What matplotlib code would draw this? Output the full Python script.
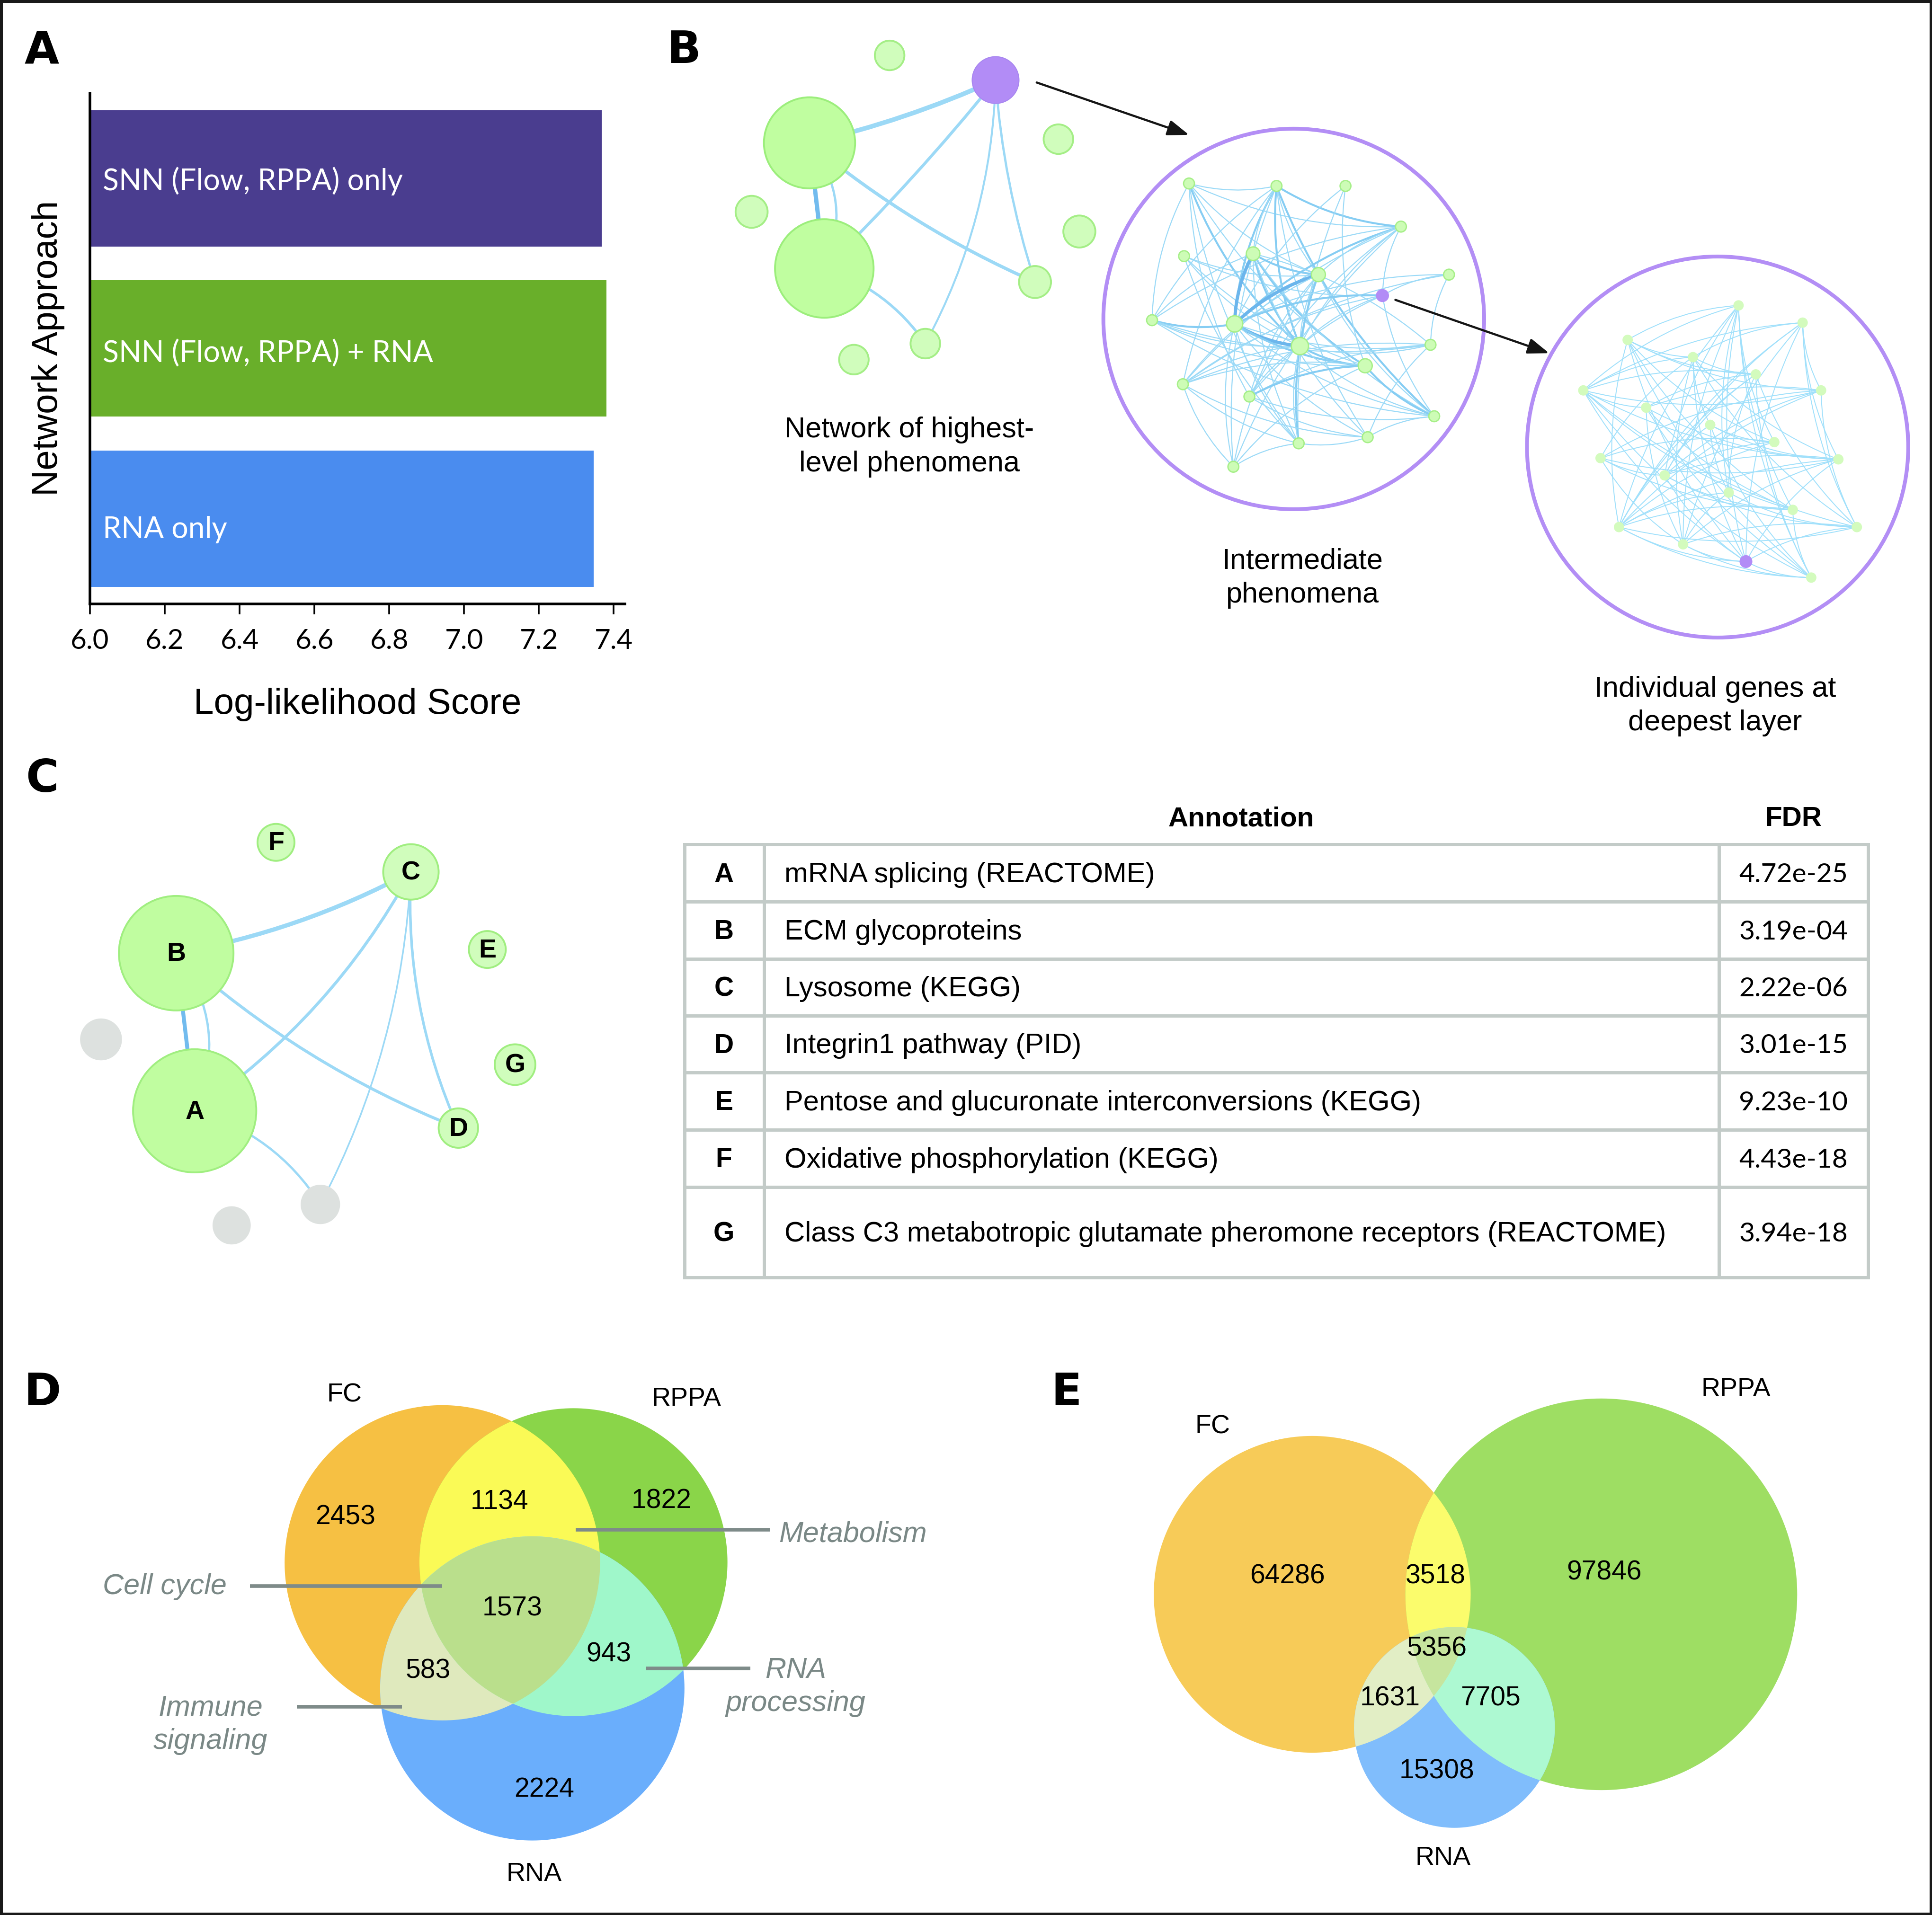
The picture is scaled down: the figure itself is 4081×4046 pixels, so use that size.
import numpy as np
import matplotlib
matplotlib.use('Agg')
import matplotlib.pyplot as plt
from matplotlib.patches import Circle, Polygon, PathPatch, Rectangle, FancyArrowPatch
from matplotlib.path import Path

plt.rcParams['font.family'] = ['Liberation Sans', 'DejaVu Sans']
GEO = ['Lato', 'DejaVu Sans']

# ---------------- data ----------------
# panel A
approaches = ['SNN (Flow, RPPA) only', 'SNN (Flow, RPPA) + RNA', 'RNA only']
scores = [7.368, 7.381, 7.346]
bar_colors = ['#4a3d8f', '#69af2a', '#4a8cef']
label_dy = [-0.015, -0.03, -0.065]

# panel B, top level network (x, y, r, kind)
top_nodes = [(808, 65, 19, 'p'), (657, 116, 37, 'g'), (669, 218, 40, 'g'),
             (722, 45, 12, 'l'), (610, 172, 13, 'l'), (859, 113, 12, 'l'),
             (876, 188, 13, 'l'), (840, 229, 13, 'l'), (751, 279, 12, 'l'),
             (693, 292, 12, 'l')]
# (i, j, width, curvature, dark)
top_edges = [(0, 1, 7.0, -0.05, 0), (0, 2, 4.5, -0.03, 0), (0, 7, 3.5, 0.06, 0),
             (0, 8, 3.0, -0.12, 0), (1, 2, 6.5, 0.0, 1), (1, 2, 3.5, -0.3, 0),
             (1, 7, 5.0, 0.07, 0), (2, 8, 4.0, -0.17, 0)]

# panel B, intermediate network
mid_nodes = [(965, 149, 4.4), (1036, 151, 4.4), (1092, 151, 4.4), (1137, 184, 4.4),
             (961, 208, 4.4), (1017, 206, 5.5), (1070, 223, 5.7), (1176, 223, 4.4),
             (1122, 240, 5.3), (935, 260, 4.4), (1002, 263, 6.6), (1055, 281, 7.0),
             (1161, 280, 4.4), (1108, 297, 5.7), (960, 312, 4.4), (1014, 322, 4.4),
             (1164, 338, 4.4), (1054, 360, 4.4), (1110, 355, 4.4), (1001, 379, 4.4)]
mid_purple = 8
mid_edges = [(0, 1, 1), (0, 3, 1), (0, 9, 1), (0, 11, 2), (0, 13, 1), (0, 15, 1), (0, 6, 1), (0, 17, 1),
             (1, 3, 2), (1, 10, 2), (1, 5, 1), (1, 11, 2), (1, 18, 1), (1, 14, 1), (1, 16, 2), (1, 6, 1),
             (1, 9, 1), (1, 19, 1),
             (2, 13, 1), (2, 10, 1), (2, 17, 1),
             (3, 10, 2), (3, 14, 1), (3, 11, 1), (3, 8, 1), (3, 19, 1), (3, 6, 1), (3, 15, 1), (3, 9, 1),
             (4, 6, 1), (4, 11, 1), (4, 13, 1), (4, 17, 1), (4, 8, 1),
             (5, 6, 2), (5, 10, 3), (5, 11, 2), (5, 13, 2), (5, 16, 1), (5, 17, 1), (5, 9, 1), (5, 18, 1),
             (6, 10, 3), (6, 11, 1), (6, 14, 1), (6, 15, 1), (6, 16, 1), (6, 19, 1), (6, 17, 2),
             (7, 8, 1), (7, 10, 1), (7, 14, 1), (7, 12, 1),
             (8, 10, 2), (8, 11, 1), (8, 16, 1), (8, 15, 1), (8, 14, 1),
             (9, 10, 2), (9, 11, 1), (9, 12, 1), (9, 13, 1), (9, 16, 1),
             (10, 11, 3), (10, 12, 1), (10, 13, 2), (10, 16, 1), (10, 17, 1), (10, 18, 1), (10, 19, 1),
             (11, 12, 1), (11, 13, 2), (11, 14, 1), (11, 15, 1), (11, 17, 1), (11, 16, 1),
             (12, 14, 1), (12, 15, 1), (12, 5, 1),
             (13, 14, 1), (13, 15, 2), (13, 19, 1), (13, 16, 2),
             (14, 17, 1), (14, 18, 1), (14, 19, 1),
             (15, 16, 1), (15, 18, 1), (16, 18, 1), (17, 18, 1), (17, 19, 1), (12, 18, 1)]

# panel B, deepest layer network
deep_nodes = [(1411, 248), (1463, 262), (1321, 276), (1374, 290), (1425, 304), (1285, 317),
              (1478, 317), (1336, 331), (1388, 345), (1440, 359), (1299, 372), (1492, 373),
              (1351, 386), (1403, 400), (1455, 414), (1314, 428), (1507, 428), (1366, 442),
              (1417, 456), (1470, 469)]
deep_purple = 18
deep_edges = [(0, 2), (0, 5), (0, 12), (0, 15), (0, 17), (0, 18), (0, 14), (0, 9), (0, 13), (0, 19),
              (1, 3), (1, 5), (1, 15), (1, 12), (1, 6), (1, 16), (1, 18), (1, 17), (1, 11),
              (2, 3), (2, 4), (2, 6), (2, 15), (2, 14), (2, 18), (2, 19), (2, 9),
              (3, 4), (3, 5), (3, 10), (3, 16), (3, 18), (3, 17), (3, 8), (3, 11),
              (4, 5), (4, 7), (4, 12), (4, 15), (4, 16), (4, 19), (4, 13),
              (5, 6), (5, 11), (5, 14), (5, 16), (5, 18), (5, 19), (5, 7),
              (6, 7), (6, 10), (6, 15), (6, 16), (6, 12),
              (7, 11), (7, 14), (7, 17), (7, 19),
              (8, 11), (8, 13), (8, 15), (8, 19), (8, 9),
              (9, 10), (9, 15), (9, 12),
              (10, 11), (10, 12), (10, 17), (10, 14),
              (11, 12), (11, 15), (11, 18), (11, 17),
              (12, 16), (12, 18), (12, 14),
              (13, 15), (13, 17), (13, 16),
              (14, 15), (14, 19), (15, 18), (15, 19), (15, 16),
              (16, 17), (16, 18), (17, 18), (17, 19), (18, 19)]

# panel C network (label, x, y, r)
c_nodes = [('F', 224, 684, 15), ('C', 333.5, 708, 22.5), ('B', 143, 774, 46.5),
           ('E', 395.5, 771, 15), ('', 82, 844, 17), ('G', 418, 864.5, 16.5),
           ('A', 158, 902, 50), ('D', 372, 916, 16), ('', 260, 978, 16), ('', 188, 995, 15.5)]
c_edges = [(2, 1, 6.5, 0.08, 0), (1, 6, 4.5, -0.12, 0), (1, 7, 4.0, 0.12, 0), (1, 8, 2.5, -0.11, 0),
           (2, 6, 6.0, 0.0, 1), (2, 6, 3.5, -0.29, 0), (2, 7, 4.5, 0.09, 0), (6, 8, 3.5, -0.19, 0)]

# annotation table
tab_ids = ['A', 'B', 'C', 'D', 'E', 'F', 'G']
tab_annot = ['mRNA splicing (REACTOME)', 'ECM glycoproteins', 'Lysosome (KEGG)',
             'Integrin1 pathway (PID)', 'Pentose and glucuronate interconversions (KEGG)',
             'Oxidative phosphorylation (KEGG)',
             'Class C3 metabotropic glutamate pheromone receptors (REACTOME)']
tab_fdr = ['4.72e-25', '3.19e-04', '2.22e-06', '3.01e-15', '9.23e-10', '4.43e-18', '3.94e-18']
row_edges = [685.8, 732.1, 778.5, 824.6, 870.9, 917.3, 963.9, 1037.2]

# venn diagrams: FC only, RPPA only, FC&RPPA, RNA only, FC&RNA, RPPA&RNA, all
venn_sets = ['FC', 'RPPA', 'RNA']
venn_d_counts = [2453, 1822, 1134, 2224, 583, 943, 1573]
venn_e_counts = [64286, 97846, 3518, 15308, 1631, 7705, 5356]

# ---------------- helpers ----------------
MAIN_W, MAIN_H = 1568, 1555

fig = plt.figure(figsize=(40.81, 40.46), dpi=100)
ax0 = fig.add_axes([0, 0, 1, 1])
ax0.set_xlim(0, MAIN_W)
ax0.set_ylim(MAIN_H, 0)
ax0.axis('off')


def curve(p, q, rad, **kw):
    p = np.asarray(p, float)
    q = np.asarray(q, float)
    d = q - p
    c = (p + q) / 2 + rad * np.array([-d[1], d[0]])
    path = Path([p, c, q], [Path.MOVETO, Path.CURVE3, Path.CURVE3])
    ax0.add_patch(PathPatch(path, fill=False, capstyle='round', **kw))


def circle_pts(cx, cy, r, n=240):
    t = np.linspace(0, 2 * np.pi, n, endpoint=False)
    return np.column_stack([cx + r * np.cos(t), cy + r * np.sin(t)])


def clip_poly(subject, clip):
    out = list(subject)
    m = len(clip)
    for i in range(m):
        a, b = clip[i - 1], clip[i]
        ab = b - a
        inp, out = out, []
        if not inp:
            break
        s = inp[-1]
        s_in = ab[0] * (s[1] - a[1]) - ab[1] * (s[0] - a[0]) >= 0
        for e in inp:
            e_in = ab[0] * (e[1] - a[1]) - ab[1] * (e[0] - a[0]) >= 0
            if e_in != s_in:
                d1 = e - s
                den = d1[0] * ab[1] - d1[1] * ab[0]
                t = ((a[0] - s[0]) * ab[1] - (a[1] - s[1]) * ab[0]) / den
                out.append(s + t * d1)
            if e_in:
                out.append(e)
            s, s_in = e, e_in
    return np.array(out)


def venn(circles, counts, cols, count_pos, label_pos):
    c = [circle_pts(*cc) for cc in circles]
    for k in range(3):
        ax0.add_patch(Polygon(c[k], closed=True, fc=cols[k], ec='none', zorder=2))
    for (i, j), col in zip([(0, 1), (0, 2), (1, 2)], cols[3:6]):
        ax0.add_patch(Polygon(clip_poly(c[i], c[j]), closed=True, fc=col, ec='none', zorder=3))
    tri = clip_poly(clip_poly(c[0], c[1]), c[2])
    ax0.add_patch(Polygon(tri, closed=True, fc=cols[6], ec='none', zorder=4))
    for n, (x, y) in zip(counts, count_pos):
        ax0.text(x, y, str(n), fontsize=41, ha='center', va='center', zorder=6)
    for s, (x, y) in zip(venn_sets, label_pos):
        ax0.text(x, y, s, fontsize=40, ha='center', va='center', zorder=6)


# ---------------- panel A ----------------
ax = fig.add_axes([190 / 4081, 1 - 1275.5 / 4046, 1130 / 4081, 1078.5 / 4046])
ypos = [2, 1, 0]
ax.barh(ypos, [s - 6 for s in scores], left=6, height=0.8, color=bar_colors)
for y, dy, lab in zip(ypos, label_dy, approaches):
    ax.text(0.024, y + dy, lab, transform=ax.get_yaxis_transform(), color='white',
            fontsize=45, va='center', ha='left', family=GEO)
ax.set_xlim(6, 7.43)
ax.set_ylim(-0.5, 2.5)
ax.set_xticks(np.arange(6.0, 7.41, 0.2))
ax.set_xticklabels(['%.1f' % v for v in np.arange(6.0, 7.41, 0.2)], family=GEO, fontsize=42)
ax.set_yticks([])
ax.tick_params(axis='x', direction='out', length=16, width=2.6, pad=22)
for sp in ['top', 'right']:
    ax.spines[sp].set_visible(False)
for sp in ['left', 'bottom']:
    ax.spines[sp].set_linewidth(4)
ax.set_xlabel('Log-likelihood Score', fontsize=55, labelpad=52)
ax.set_ylabel('Network Approach', fontsize=55, labelpad=38)

# ---------------- panel letters ----------------
for letter, x, y in [('A', 34, 42), ('B', 555, 41), ('C', 34, 633), ('D', 34.5, 1131), ('E', 865.5, 1131)]:
    ax0.text(x, y, letter, fontsize=68, fontweight='bold', family='DejaVu Sans',
             ha='center', va='center')

# ---------------- panel B ----------------
LIGHT_EDGE = '#9cd9f6'
DARK_EDGE = '#72bbee'
for i, j, w, rad, dark in top_edges:
    curve(top_nodes[i][:2], top_nodes[j][:2], rad, lw=w, ec=DARK_EDGE if dark else LIGHT_EDGE, zorder=2)
for x, y, r, kind in top_nodes:
    if kind == 'p':
        ax0.add_patch(Circle((x, y), r, fc='#b28cf6', ec='#a886f0', lw=1.5, zorder=3))
    elif kind == 'g':
        ax0.add_patch(Circle((x, y), r, fc='#c0fea0', ec='#9cee7c', lw=2.8, zorder=3))
    else:
        ax0.add_patch(Circle((x, y), r, fc='#d0fdbc', ec='#a4ee86', lw=2.8, zorder=3))

mid_lw = {1: 1.6, 2: 3.0, 3: 5.0}
mid_col = {1: '#9cdaf7', 2: '#86cdf3', 3: '#6cb6ec'}
for i, j, w in mid_edges:
    curve(mid_nodes[i][:2], mid_nodes[j][:2], 0.12, lw=mid_lw[w], ec=mid_col[w], zorder=2)
for k, (x, y, r) in enumerate(mid_nodes):
    if k == mid_purple:
        ax0.add_patch(Circle((x, y), r, fc='#b28cf6', ec='none', zorder=3))
    else:
        ax0.add_patch(Circle((x, y), r, fc='#cdfcb6', ec='#a6ef88', lw=2, zorder=3))
ax0.add_patch(Circle((1050, 259), 154.5, fill=False, ec='#b38ef5', lw=5.8, zorder=4))

for i, j in deep_edges:
    curve(deep_nodes[i], deep_nodes[j], 0.12, lw=1.4, ec='#a0e0fb', zorder=2)
for k, (x, y) in enumerate(deep_nodes):
    if k == deep_purple:
        ax0.add_patch(Circle((x, y), 5.2, fc='#b28cf6', ec='none', zorder=3))
    else:
        ax0.add_patch(Circle((x, y), 4.2, fc='#d3fbbd', ec='none', zorder=3))
ax0.add_patch(Circle((1394, 363), 154.7, fill=False, ec='#b38ef5', lw=5.8, zorder=4))

for p, q in [((841.4, 67), (965, 109.5)), ((1132.5, 243.5), (1257.3, 286.8))]:
    ax0.add_patch(FancyArrowPatch(p, q, arrowstyle='-|>,head_length=0.55,head_width=0.2',
                                  mutation_scale=50, lw=3.3, color='#151515',
                                  shrinkA=0, shrinkB=0, zorder=5))

for s, x, y in [('Network of highest-\nlevel phenomena', 738, 363),
                ('Intermediate\nphenomena', 1057, 469.5),
                ('Individual genes at\ndeepest layer', 1392, 573.5)]:
    ax0.text(x, y, s, fontsize=44, ha='center', va='center', linespacing=1.32)

# ---------------- panel C ----------------
for i, j, w, rad, dark in c_edges:
    curve(c_nodes[i][1:3], c_nodes[j][1:3], rad, lw=w, ec=DARK_EDGE if dark else LIGHT_EDGE, zorder=2)
for lab, x, y, r in c_nodes:
    if lab == '':
        ax0.add_patch(Circle((x, y), r, fc='#dde1df', ec='none', zorder=3))
        continue
    fc = '#c0fda0' if r > 40 else '#d0fdbc'
    ax0.add_patch(Circle((x, y), r, fc=fc, ec='#a0ee80', lw=2.8, zorder=3))
    ax0.text(x, y + 1, lab, fontsize=40, fontweight='bold', ha='center', va='center', zorder=4)

# ---------------- table ----------------
TAB_L, TAB_C1, TAB_C2, TAB_R = 555.4, 620, 1395, 1516
grid_col = '#c3cbc8'
ax0.text(1007.5, 665, 'Annotation', fontsize=42, fontweight='bold', ha='center', va='center')
ax0.text(1455.5, 665, 'FDR', fontsize=42, fontweight='bold', ha='center', va='center')
for y in row_edges:
    ax0.plot([TAB_L, TAB_R], [y, y], color=grid_col, lw=5, solid_capstyle='projecting')
for x in [TAB_L, TAB_C1, TAB_C2, TAB_R]:
    ax0.plot([x, x], [row_edges[0], row_edges[-1]], color=grid_col, lw=5, solid_capstyle='projecting')
for k in range(len(tab_ids)):
    yc = (row_edges[k] + row_edges[k + 1]) / 2 + 1.5
    ax0.text(587.5, yc, tab_ids[k], fontsize=41, fontweight='bold', ha='center', va='center')
    ax0.text(636.5, yc, tab_annot[k], fontsize=43, ha='left', va='center')
    ax0.text(1455.5, yc, tab_fdr[k], fontsize=41, ha='center', va='center', family=GEO)

# ---------------- panel D ----------------
venn([(359, 1269, 128), (465.4, 1268.5, 125), (432, 1371, 123.5)], venn_d_counts,
     ['#f6c043', '#8ad549', '#6aaefc', '#fafa56', '#dfe9bd', '#9ff7ca', '#badf8c'],
     [(280.5, 1232), (536.7, 1219), (405.5, 1219.5), (441.5, 1453), (347.4, 1357),
      (494, 1343.5), (415.8, 1306)],
     [(279.4, 1133), (557, 1136), (433.3, 1522)])
call_col = '#7e8b89'
for x0, x1, y in [(467.3, 625.2, 1242), (203, 359, 1288), (240.8, 326.3, 1385.8), (523.9, 608.8, 1354.6)]:
    ax0.plot([x0, x1], [y, y], color=call_col, lw=5.5, zorder=7, solid_capstyle='butt')
for s, x, y, ha in [('Metabolism', 632, 1246, 'left'), ('Cell cycle', 184, 1288.5, 'right'),
                    ('Immune\nsignaling', 171, 1400.5, 'center'), ('RNA\nprocessing', 645.8, 1370, 'center')]:
    ax0.text(x, y, s, fontsize=44, style='italic', color='#7a8886', ha=ha, va='center',
             linespacing=1.3, zorder=7)

# ---------------- panel E ----------------
venn([(1065, 1294.6, 128.6), (1299.6, 1294.6, 159), (1180.4, 1402.7, 81.5)], venn_e_counts,
     ['#f7cb58', '#9ede63', '#80bdfc', '#fbfc6c', '#e2eec5', '#adf9d2', '#c6e59e'],
     [(1044.8, 1280), (1302, 1277), (1165.1, 1280), (1166, 1438.5), (1128.2, 1379),
      (1209.8, 1379), (1166, 1339)],
     [(984, 1158.5), (1408.8, 1128.5), (1171, 1509)])

# figure frame
ax0.add_patch(Rectangle((0, 0), MAIN_W, MAIN_H, fill=False, ec='#1a1a1a', lw=8, zorder=10))

fig.savefig('out.png', dpi=100, facecolor='white')
